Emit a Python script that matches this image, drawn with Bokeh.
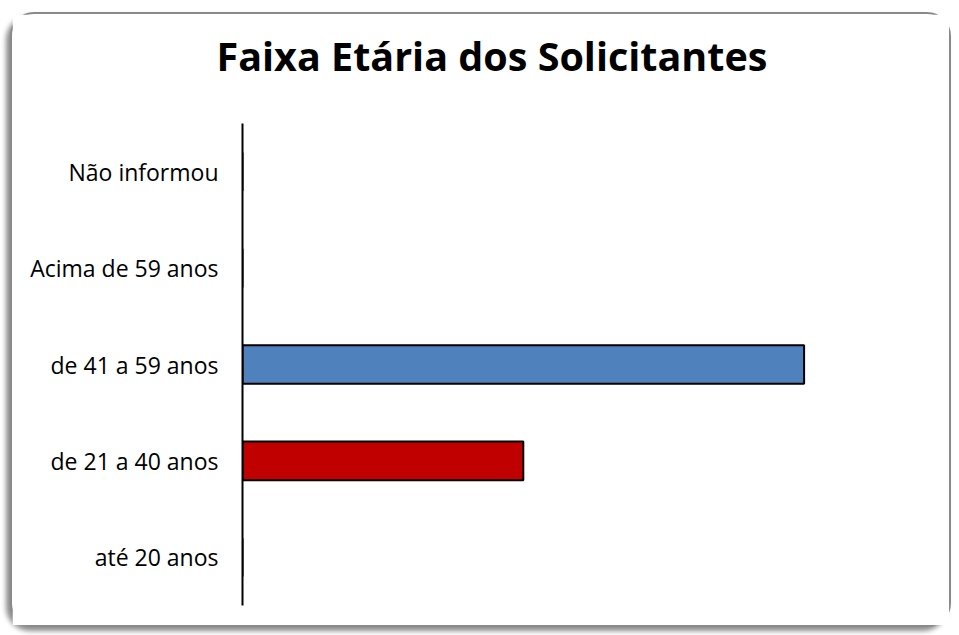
from bokeh.plotting import figure
from bokeh.models import FactorRange, Range1d, ColumnDataSource, Title
from bokeh.embed import file_html
from bokeh.resources import INLINE

title_text = "Faixa Etária dos Solicitantes"
categories = ["até 20 anos", "de 21 a 40 anos", "de 41 a 59 anos", "Acima de 59 anos", "Não informou"]
values = [0, 1, 2, 0, 0]
colors = ["#4F81BD", "#C00000", "#4F81BD", "#4F81BD", "#4F81BD"]

src = ColumnDataSource(dict(cat=categories, val=values, color=colors))

p = figure(width=941, height=615, output_backend="svg", toolbar_location=None,
           y_range=FactorRange(factors=categories, range_padding=0),
           x_range=Range1d(0, 2.5),
           min_border_left=230, min_border_right=9, min_border_top=109, min_border_bottom=24)

p.hbar(y="cat", right="val", left=0, height=0.4, source=src,
       fill_color="color", line_color="black", line_width=2)

# spacer between title and plot frame
spacer = Title(text=" ", text_font_size="1px", standoff=33)
p.add_layout(spacer, "above")

p.title.text = title_text
p.title.align = "left"
p.title.offset = -26
p.title.text_font = "Open Sans"
p.title.text_font_size = "39.5px"
p.title.text_font_style = "bold"
p.title.text_color = "black"
p.title.standoff = 10

p.xaxis.visible = False
p.xgrid.visible = False
p.ygrid.visible = False
p.outline_line_color = None

ax = p.yaxis[0]
ax.axis_line_color = "black"
ax.axis_line_width = 2
ax.major_tick_line_color = None
ax.minor_tick_line_color = None
ax.major_label_standoff = 18
ax.major_label_text_font = "Open Sans"
ax.major_label_text_font_size = "23px"
ax.major_label_text_color = "black"

p.styles = {"border": "2px solid #8a8a8a", "border-radius": "24px",
            "box-shadow": "-4px 4px 5px rgba(0,0,0,0.45)", "background": "white",
            "margin-left": "10px", "margin-top": "12px"}

open("out.html", "w").write(file_html(p, INLINE))
